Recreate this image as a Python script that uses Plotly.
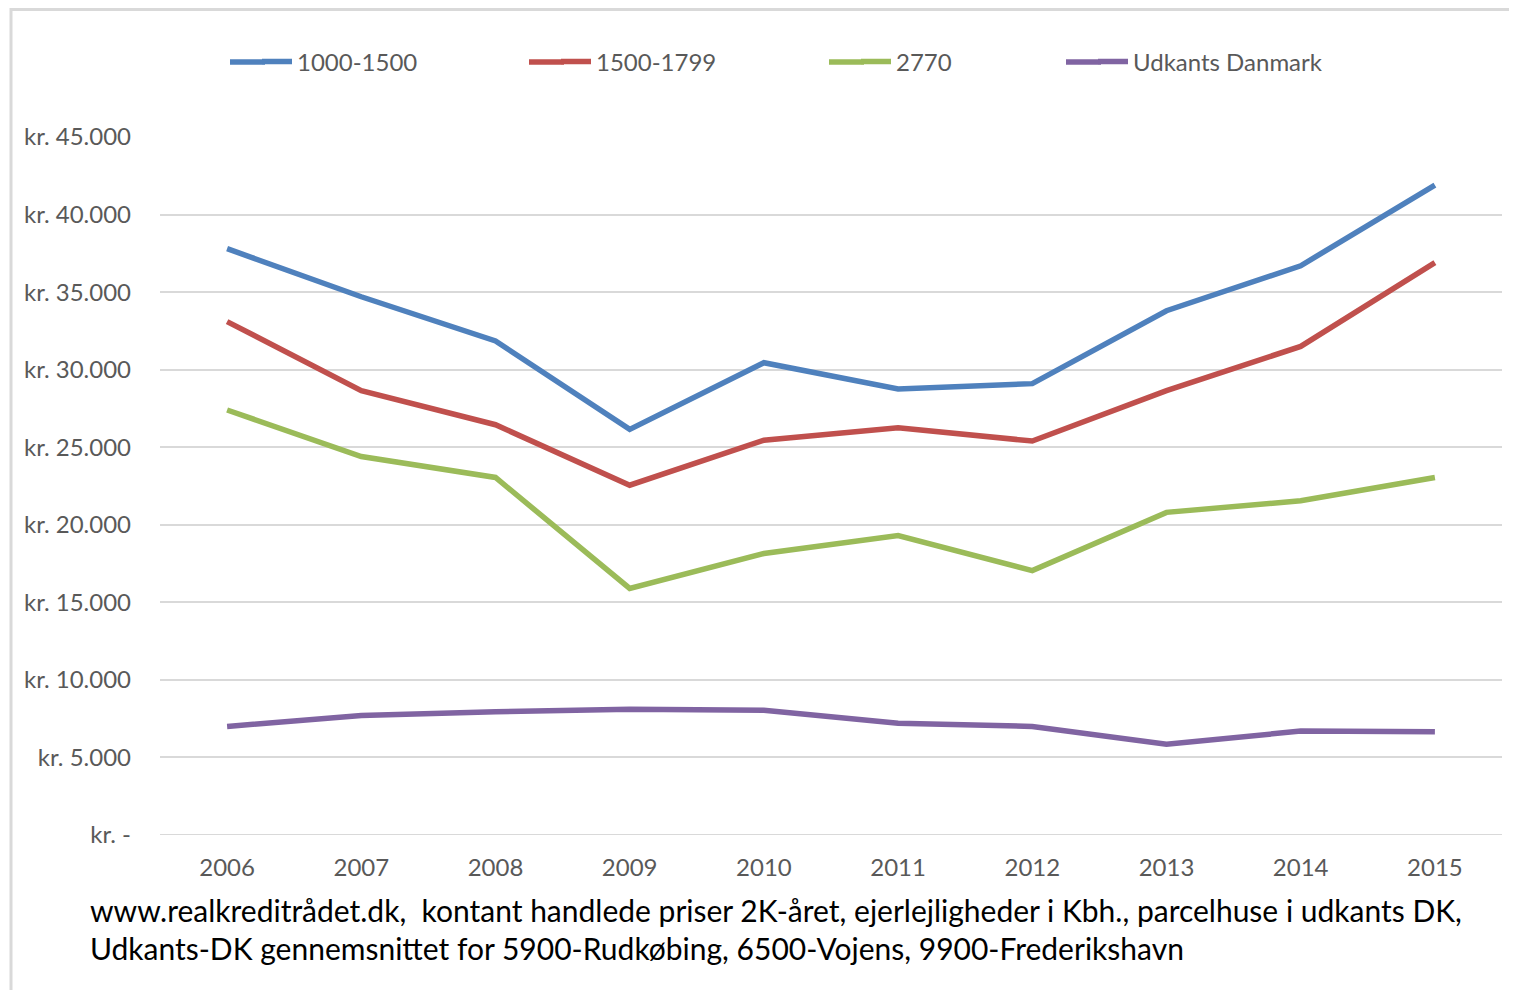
import plotly.graph_objects as go

years = ["2006", "2007", "2008", "2009", "2010", "2011", "2012", "2013", "2014", "2015"]

kbh_1000_1500 = [37800, 34700, 31850, 26150, 30450, 28750, 29100, 33800, 36700, 41900]
kbh_1500_1799 = [33100, 28650, 26450, 22550, 25450, 26250, 25400, 28650, 31500, 36900]
omr_2770 = [27400, 24400, 23050, 15900, 18150, 19300, 17050, 20800, 21550, 23050]
udkants_dk = [7000, 7700, 7950, 8100, 8050, 7200, 7000, 5850, 6700, 6650]

series_names = ["1000-1500", "1500-1799", "2770", "Udkants Danmark"]
series_values = [kbh_1000_1500, kbh_1500_1799, omr_2770, udkants_dk]
colors = ["#4F81BD", "#C0504D", "#9BBB59", "#8064A2"]

tick_vals = [0, 5000, 10000, 15000, 20000, 25000, 30000, 35000, 40000, 45000]
tick_text = ["kr. -", "kr. 5.000", "kr. 10.000", "kr. 15.000", "kr. 20.000",
             "kr. 25.000", "kr. 30.000", "kr. 35.000", "kr. 40.000", "kr. 45.000"]

FONT = "Lato"
GREY = "#595959"

W, H = 1509, 982
L, R, T, B = 152, 15, 129, 155
pw = W - L - R
ph = H - T - B

fig = go.Figure()

legend_ids = ["legend", "legend2", "legend3", "legend4"]
# where each legend text should start (figure pixels)
legend_text_px = [289, 588, 888, 1125]

for name, vals, col, lid in zip(series_names, series_values, colors, legend_ids):
    fig.add_trace(go.Scatter(
        x=years, y=vals, name=name, mode="lines",
        line=dict(color=col, width=5.5),
        legend=lid,
    ))

leg_y = (H - B - 54) / ph
legend_style = dict(orientation="h", y=leg_y, yanchor="middle", xanchor="left",
                    bgcolor="rgba(0,0,0,0)", font=dict(family=FONT, size=24, color=GREY))
layout_legends = {}
for lid, tx in zip(legend_ids, legend_text_px):
    layout_legends[lid] = dict(legend_style, x=(tx - 40 - L) / pw)

fig.update_layout(
    width=W, height=H,
    margin=dict(l=L, r=R, t=T, b=B),
    plot_bgcolor="white", paper_bgcolor="white",
    font=dict(family=FONT, color=GREY),
    showlegend=True,
    **layout_legends,
    xaxis=dict(type="category", range=[-0.5, 9.5], showgrid=False, zeroline=False,
               showline=False, ticks="", tickfont=dict(size=24, color=GREY),
               ticklabelstandoff=16),
    yaxis=dict(range=[0, 45000], tickvals=tick_vals, ticktext=tick_text,
               showgrid=True, gridcolor="#D9D9D9", gridwidth=2, zeroline=False,
               showline=False, ticks="", tickfont=dict(size=24, color=GREY),
               ticklabelstandoff=28),
)

# lengthen legend line symbols to the left
for tx, col in zip(legend_text_px, colors):
    fig.add_shape(type="line", xref="paper", yref="paper",
                  x0=(tx - 67 - L) / pw, x1=(tx - 32 - L) / pw, y0=leg_y, y1=leg_y,
                  line=dict(color=col, width=5.5))

# bottom axis line at zero
fig.add_shape(type="line", xref="paper", yref="y", x0=0, x1=1, y0=0, y1=0,
              line=dict(color="#D9D9D9", width=2), layer="below")

# chart frame (left and top edges visible)
fig.add_shape(type="rect", xref="paper", yref="paper",
              x0=(3 - L) / pw, x1=1.2, y0=-0.3, y1=(H - B - 1.5) / ph,
              line=dict(color="#D9D9D9", width=3))

fig.add_annotation(
    text="www.realkreditrådet.dk,  kontant handlede priser 2K-året, ejerlejligheder i Kbh., parcelhuse i udkants DK,",
    xref="paper", yref="paper", x=(80 - L) / pw, y=(H - B - 902) / ph, xanchor="left", yanchor="middle",
    showarrow=False, font=dict(family=FONT, size=30, color="black"))
fig.add_annotation(
    text="Udkants-DK gennemsnittet for 5900-Rudkøbing, 6500-Vojens, 9900-Frederikshavn",
    xref="paper", yref="paper", x=(80 - L) / pw, y=(H - B - 940) / ph, xanchor="left", yanchor="middle",
    showarrow=False, font=dict(family=FONT, size=30, color="black"))

fig.write_html("out.html")
